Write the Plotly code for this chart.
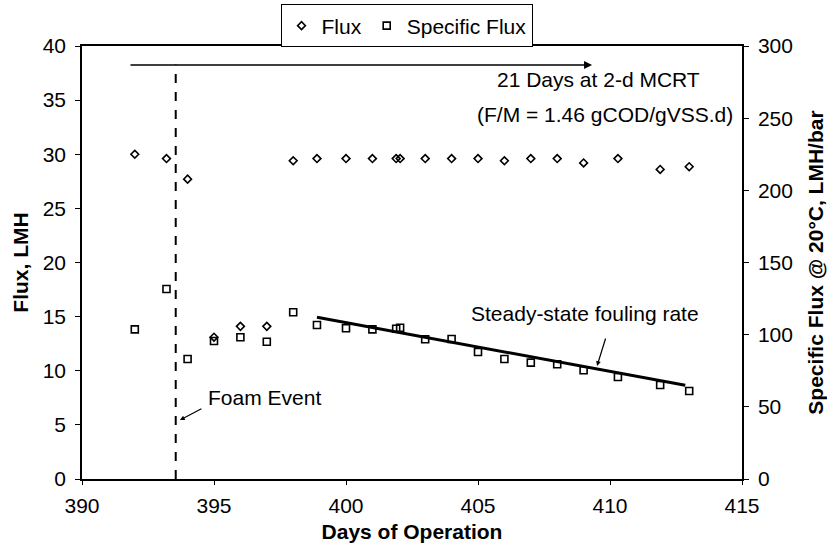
import plotly.graph_objects as go

days = [392, 393.2, 394, 395, 396, 397, 398, 398.9, 400, 401, 401.9, 402.05,
        403, 404, 405, 406, 407, 408, 409, 410.3, 411.9, 413]
flux = [30, 29.6, 27.7, 13.1, 14.1, 14.1, 29.4, 29.6, 29.6, 29.6, 29.6, 29.6,
        29.6, 29.6, 29.6, 29.4, 29.6, 29.6, 29.2, 29.6, 28.6, 28.85]
specific_flux = [103.7, 131.6, 83.1, 95.6, 98.2, 95.1, 115.5, 106.7, 104.4, 103.7, 104.1, 104.8,
                 96.8, 97.0, 88.0, 83.1, 80.6, 79.5, 75.3, 70.7, 65.1, 61.0]
trend_days = [398.9, 412.85]
trend_specific_flux = [112.0, 65.0]
foam_day = 393.55

FONT = "Liberation Sans, Arial, Helvetica, sans-serif"
FS = 21

fig = go.Figure()
fig.add_trace(go.Scatter(
    x=days, y=flux, mode="markers", name="Flux",
    marker=dict(symbol="diamond-open", size=6, color="black", line=dict(width=1.6, color="black")),
))
fig.add_trace(go.Scatter(
    x=days, y=specific_flux, mode="markers", name="Specific Flux", yaxis="y2",
    marker=dict(symbol="square-open", size=7, color="black", line=dict(width=1.6, color="black")),
))
fig.add_trace(go.Scatter(
    x=trend_days, y=trend_specific_flux, mode="lines", yaxis="y2", showlegend=False,
    line=dict(color="black", width=3), hoverinfo="skip",
))

fig.add_shape(type="line", x0=foam_day, x1=foam_day, y0=0, y1=38.3, xref="x", yref="y",
              line=dict(color="black", width=2, dash="dash"))

ann = []
ann.append(dict(x=409.32, y=38.25, ax=391.78, ay=38.25, xref="x", yref="y", axref="x", ayref="y",
                text="", showarrow=True, arrowhead=2, arrowsize=1, arrowwidth=1.6, arrowcolor="black"))
ann.append(dict(x=409.55, y=36.95, xref="x", yref="y", text="21 Days at 2-d MCRT", showarrow=False,
                font=dict(size=FS, color="black", family=FONT)))
ann.append(dict(x=409.8, y=33.7, xref="x", yref="y", text="(F/M = 1.46 gCOD/gVSS.d)", showarrow=False,
                font=dict(size=FS, color="black", family=FONT)))
ann.append(dict(x=409.05, y=15.33, xref="x", yref="y", text="Steady-state fouling rate", showarrow=False,
                font=dict(size=FS, color="black", family=FONT)))
ann.append(dict(x=409.51, y=10.44, ax=409.85, ay=13.12, xref="x", yref="y", axref="x", ayref="y",
                text="", showarrow=True, arrowhead=2, arrowsize=0.8, arrowwidth=1.2, arrowcolor="black"))
ann.append(dict(x=396.91, y=7.57, xref="x", yref="y", text="Foam Event", showarrow=False,
                font=dict(size=FS, color="black", family=FONT)))
ann.append(dict(x=393.71, y=5.45, ax=394.58, ay=6.56, xref="x", yref="y", axref="x", ayref="y",
                text="", showarrow=True, arrowhead=2, arrowsize=0.8, arrowwidth=1.2, arrowcolor="black"))

fig.update_layout(
    width=827, height=547,
    margin=dict(l=82, r=85, t=46, b=68, autoexpand=False),
    paper_bgcolor="white", plot_bgcolor="white",
    font=dict(family=FONT, size=FS, color="black"),
    showlegend=True,
    legend=dict(orientation="h", x=0.4917, y=1.0462, xanchor="center", yanchor="middle",
                bordercolor="black", borderwidth=1, bgcolor="white",
                font=dict(size=FS), itemwidth=30, tracegroupgap=0),
    xaxis=dict(range=[390, 415], dtick=5, tick0=390, showgrid=False, zeroline=False,
               showline=True, linecolor="black", linewidth=1.5, mirror=True,
               ticks="outside", ticklen=4, tickcolor="black", ticklabelstandoff=3,
               title=dict(text="<b>Days of Operation</b>", font=dict(size=FS), standoff=8)),
    yaxis=dict(range=[0, 40], dtick=5, showgrid=False, zeroline=False,
               showline=True, linecolor="black", linewidth=1.5,
               ticks="outside", ticklen=5, tickcolor="black", ticklabelstandoff=5,
               title=dict(text="<b>Flux, LMH</b>", font=dict(size=FS), standoff=8)),
    yaxis2=dict(range=[0, 300], dtick=50, overlaying="y", side="right", showgrid=False, zeroline=False,
                showline=True, linecolor="black", linewidth=1.5,
                ticks="outside", ticklen=5, tickcolor="black", ticklabelstandoff=5,
                title=dict(text="<b>Specific Flux @ 20°C, LMH/bar</b>", font=dict(size=FS), standoff=16)),
    annotations=ann,
)

fig.write_html("out.html", config={"displayModeBar": False},
               post_script="document.body.style.margin='0px';document.body.style.overflow='hidden';")
